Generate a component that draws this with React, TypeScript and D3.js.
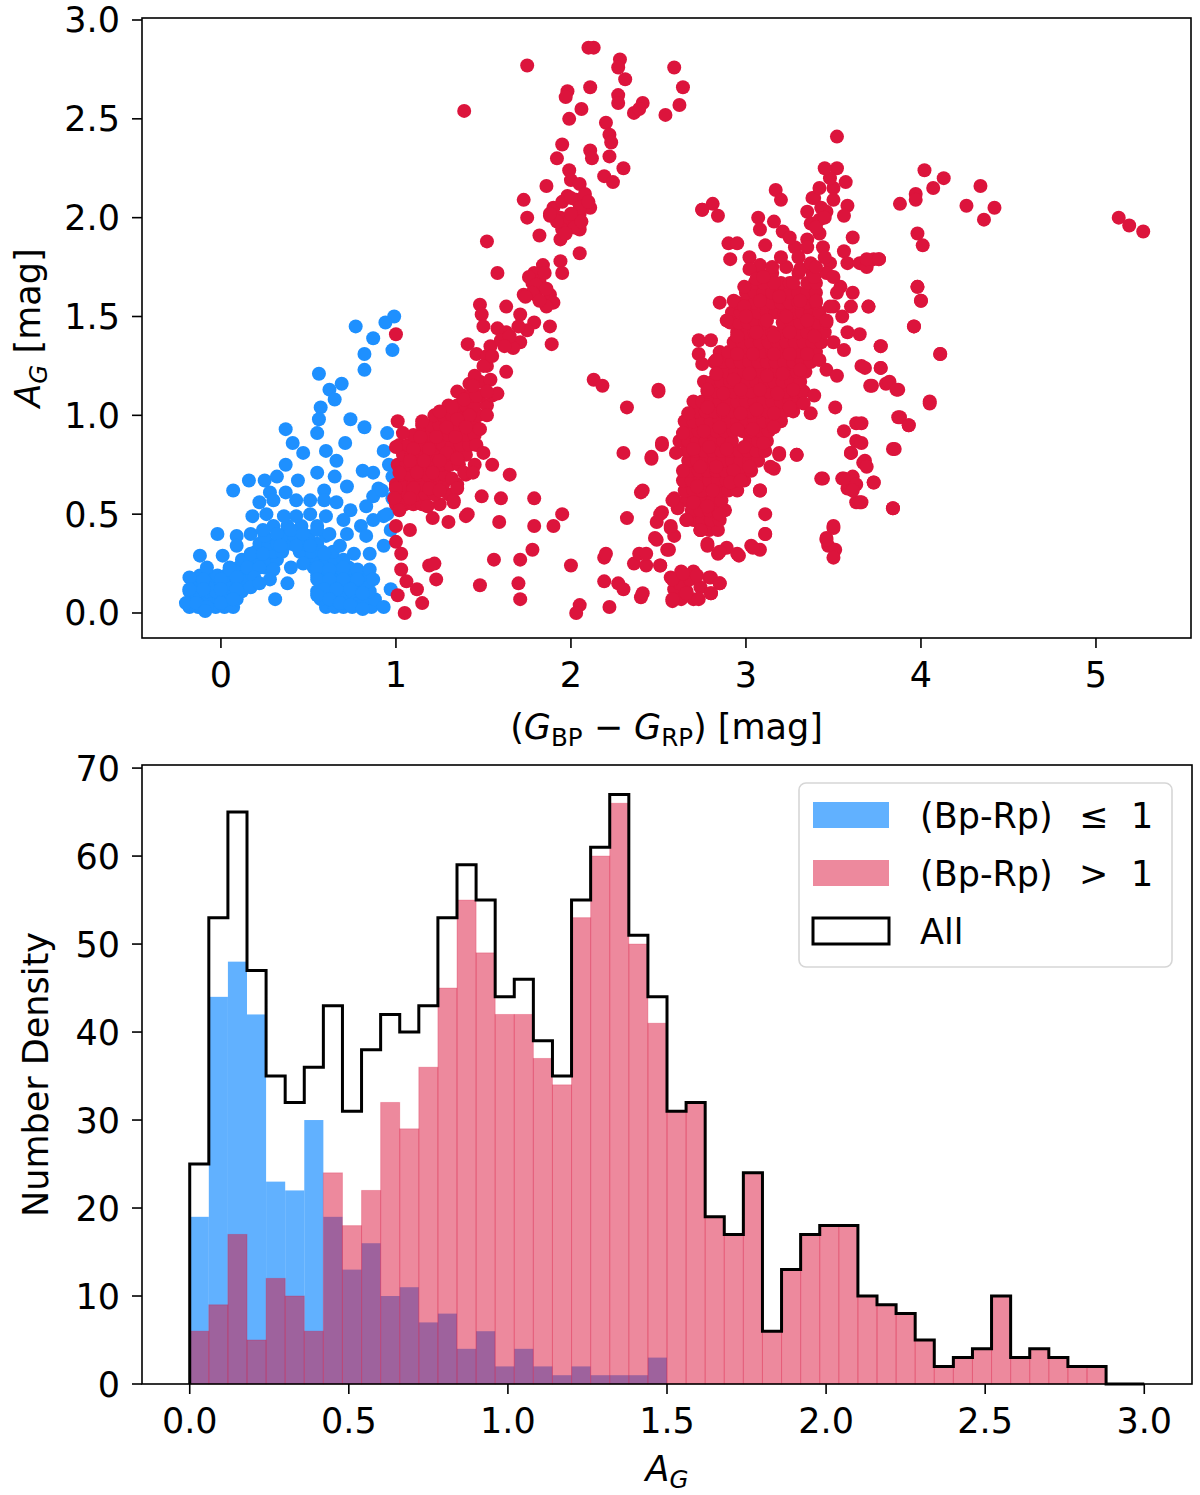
import React, { useEffect } from "react";
import * as d3 from "d3";

const FONT = "DejaVu Sans, sans-serif";
const FS = 35;
const BLUE = "#1E90FF";
const RED = "#DC143C";

// ---- top panel: (Bp-Rp) vs A_G ----
const blueStars: [number, number][] = [
  [0.99,1.50],[0.94,1.47],[0.77,1.45],[0.87,1.39],[0.98,1.33],[0.82,1.31],[0.82,1.23],[0.56,1.21],
  [0.69,1.16],[0.62,1.13],[0.65,1.08],[0.57,1.04],[0.56,0.98],[0.74,0.98],[0.82,0.94],[0.37,0.93],
  [0.55,0.91],[0.41,0.86],[0.71,0.86],[0.95,0.91],[0.93,0.82],[0.47,0.81],[0.60,0.82],[0.66,0.77],
  [0.37,0.75],[0.55,0.71],[0.81,0.72],[0.87,0.71],[0.98,0.69],[0.16,0.67],[0.25,0.67],[0.32,0.69],
  [0.44,0.67],[0.65,0.69],[0.07,0.62],[0.28,0.61],[0.37,0.61],[0.59,0.62],[0.72,0.64],[0.90,0.63],
  [0.22,0.56],[0.30,0.57],[0.43,0.57],[0.51,0.57],[0.59,0.57],[0.66,0.56],[0.74,0.52],[0.83,0.54],
  [0.87,0.59],[0.18,0.49],[0.26,0.50],[0.36,0.49],[0.43,0.49],[0.51,0.50],[0.60,0.49],[0.70,0.47],
  [0.80,0.44],[0.87,0.47],[0.93,0.49],[0.97,0.42],[-0.02,0.40],[0.09,0.39],[0.17,0.40],[0.24,0.42],
  [0.32,0.40],[0.40,0.42],[0.47,0.40],[0.55,0.42],[0.62,0.40],[0.72,0.40],[0.83,0.39],[0.93,0.34],
  [0.09,0.34],[0.01,0.29],[-0.12,0.29],[0.17,0.30],[0.24,0.30],[0.34,0.34],[0.43,0.34],[0.51,0.34],
  [0.59,0.30],[0.68,0.34],[0.76,0.30],[0.85,0.30],[-0.08,0.23],[0.05,0.22],[0.15,0.23],[0.22,0.23],
  [0.30,0.22],[0.40,0.23],[0.47,0.25],[0.55,0.23],[0.62,0.22],[0.70,0.23],[0.78,0.22],[0.85,0.22],
  [-0.18,0.18],[-0.10,0.17],[0.00,0.17],[0.09,0.18],[0.19,0.18],[0.28,0.17],[0.38,0.15],[0.55,0.17],
  [0.62,0.17],[0.70,0.17],[0.78,0.17],[0.87,0.17],[-0.18,0.12],[-0.10,0.12],[0.00,0.12],[0.09,0.12],
  [0.17,0.13],[0.22,0.15],[0.59,0.12],[0.66,0.12],[0.74,0.12],[0.81,0.10],[0.97,0.12],[-0.20,0.05],
  [-0.14,0.05],[-0.08,0.03],[0.00,0.05],[0.07,0.07],[0.31,0.07],[0.55,0.09],[0.62,0.07],[0.68,0.05],
  [0.74,0.04],[0.81,0.02],[0.93,0.03],[-0.09,0.01],[0.95,0.50],[0.98,0.58],[0.92,0.62],[0.96,0.75],
];

// dense parts of the blue group, one row per A_G level
const blueRows: [number, number[]][] = [
  [0.03, [-0.18, -0.13, -0.08, -0.03, 0.02, 0.07, 0.60, 0.65, 0.70, 0.75, 0.80, 0.86]],
  [0.07, [-0.16, -0.11, -0.06, -0.01, 0.04, 0.09, 0.57, 0.62, 0.67, 0.72, 0.77, 0.82, 0.88]],
  [0.11, [-0.18, -0.13, -0.08, -0.03, 0.02, 0.07, 0.12, 0.55, 0.60, 0.65, 0.70, 0.75, 0.80, 0.85]],
  [0.15, [-0.15, -0.10, -0.05, 0.0, 0.05, 0.10, 0.15, 0.57, 0.62, 0.67, 0.72, 0.77, 0.82]],
  [0.19, [-0.12, -0.07, -0.02, 0.03, 0.08, 0.13, 0.18, 0.55, 0.60, 0.65, 0.70, 0.75, 0.80]],
  [0.23, [0.05, 0.10, 0.15, 0.20, 0.25, 0.53, 0.58, 0.63, 0.68, 0.73]],
  [0.27, [0.12, 0.17, 0.22, 0.27, 0.32, 0.50, 0.55, 0.60, 0.65, 0.70]],
  [0.31, [0.20, 0.25, 0.30, 0.35, 0.45, 0.52, 0.58, 0.64]],
  [0.35, [0.22, 0.27, 0.32, 0.40, 0.47, 0.55]],
  [0.39, [0.25, 0.35, 0.42, 0.50, 0.60]],
  [0.44, [0.30, 0.38, 0.46, 0.55]],
];

const redStars: [number, number][] = [
  [2.10,2.86],[2.13,2.86],[1.75,2.77],[2.28,2.80],[2.27,2.76],[2.31,2.70],[2.59,2.76],[2.64,2.66],
  [1.98,2.64],[1.97,2.61],[2.11,2.66],[2.27,2.62],[2.27,2.58],[2.41,2.58],[2.36,2.53],[2.39,2.55],
  [2.54,2.52],[2.62,2.57],[1.39,2.54],[2.06,2.55],[1.99,2.50],[2.20,2.48],[2.22,2.42],[2.23,2.38],
  [1.95,2.37],[1.92,2.30],[2.11,2.34],[2.12,2.30],[2.22,2.31],[2.19,2.21],[2.24,2.18],[2.30,2.25],
  [1.99,2.24],[2.00,2.19],[2.05,2.17],[1.86,2.16],[1.98,2.11],[2.03,2.09],[2.11,2.05],[2.05,2.02],
  [1.88,2.01],[1.94,2.00],[1.99,1.98],[2.05,1.94],[1.73,2.09],[1.75,2.00],[1.82,1.91],[1.94,1.89],
  [1.95,1.94],[2.05,1.82],[1.52,1.88],[1.94,1.78],[1.95,1.72],[1.58,1.72],[1.84,1.76],[1.79,1.72],
  [1.82,1.68],[1.78,1.67],[1.73,1.61],[1.80,1.61],[1.88,1.61],[1.90,1.57],[1.86,1.55],[1.48,1.56],
  [1.63,1.55],[1.71,1.51],[1.79,1.47],[1.75,1.43],[1.88,1.45],[1.89,1.36],[1.49,1.51],[1.50,1.45],
  [1.58,1.44],[1.63,1.42],[1.41,1.36],[1.54,1.35],[1.71,1.37],[1.67,1.34],[1.46,1.31],[1.52,1.30],
  [1.52,1.25],[1.63,1.22],[1.35,1.12],[1.42,1.16],[1.48,1.17],[1.54,1.18],[1.58,1.11],[1.32,1.04],
  [1.39,1.08],[1.46,1.10],[1.25,1.02],[1.52,1.00],[1.42,1.00],[1.35,0.98],[1.01,0.97],[1.15,0.97],
  [1.29,0.94],[1.40,0.94],[1.48,0.93],[1.04,0.91],[1.14,0.89],[1.23,0.89],[1.34,0.89],[1.46,0.85],
  [1.00,0.84],[1.10,0.83],[1.19,0.83],[1.29,0.81],[1.50,0.81],[1.08,0.77],[1.16,0.77],[1.25,0.77],
  [1.35,0.78],[1.55,0.75],[1.65,0.70],[1.02,0.71],[1.12,0.71],[1.21,0.71],[1.32,0.68],[1.39,0.71],
  [1.44,0.71],[1.00,0.63],[1.10,0.63],[1.19,0.63],[1.35,0.63],[0.99,0.58],[1.08,0.58],[1.25,0.62],
  [1.33,0.56],[1.49,0.59],[1.60,0.58],[1.79,0.58],[1.02,0.52],[1.18,0.54],[1.21,0.48],[1.30,0.46],
  [1.40,0.49],[1.95,0.50],[1.79,0.44],[1.90,0.44],[1.59,0.46],[1.00,0.44],[1.08,0.42],[1.00,0.36],
  [1.03,0.30],[1.19,0.24],[1.22,0.25],[1.56,0.27],[1.78,0.32],[1.71,0.27],[2.00,0.24],[2.19,0.28],
  [1.03,0.22],[1.06,0.16],[1.12,0.12],[1.23,0.17],[1.48,0.14],[1.70,0.15],[1.71,0.07],[1.01,0.09],
  [1.15,0.05],[1.05,0.00],[2.05,0.04],[2.03,0.00],[2.22,0.03],[2.19,0.16],[2.27,0.15],[2.30,0.12],
  [2.40,0.08],[2.32,0.48],[2.40,0.61],[2.13,1.18],[2.18,1.15],[2.32,1.04],[2.50,1.12],[2.30,0.81],
  [2.46,0.78],[2.52,0.85],[2.75,2.04],[1.00,1.41],[1.41,0.50],[1.33,0.57],
  [2.20,0.30],[2.36,0.25],[2.39,0.30],[2.43,0.24],[2.51,0.24],[2.49,0.37],[2.56,0.32],[2.59,0.58],
  [2.61,0.53],[2.52,0.51],[2.49,0.46],[2.57,0.43],[2.59,0.39],[2.66,0.47],[2.74,0.42],[2.78,0.35],
  [2.84,0.30],[2.89,0.33],[2.96,0.29],[3.03,0.34],[3.08,0.32],[3.11,0.40],[3.11,0.50],[3.08,0.62],
  [3.29,0.80],[3.19,0.80],[3.16,0.73],[3.44,0.68],[3.55,0.68],[3.60,0.81],[3.61,0.69],[3.58,0.63],
  [3.63,0.56],[3.50,0.43],[3.46,0.38],[3.47,0.34],[3.51,0.32],[3.50,0.28],
  [2.57,0.18],[2.63,0.21],[2.70,0.21],[2.79,0.18],[2.85,0.15],[2.59,0.12],[2.66,0.11],[2.74,0.13],
  [2.80,0.10],[2.58,0.06],[2.63,0.07],[2.70,0.07],[2.62,0.15],[2.68,0.17],
  [3.52,2.41],[3.52,2.25],[3.57,2.18],[3.50,2.15],[3.17,2.14],[3.20,2.09],[2.81,2.07],[2.75,2.04],
  [2.84,2.01],[3.39,2.10],[3.35,2.03],[3.43,2.05],[3.50,2.09],[3.58,2.06],[3.37,1.97],[3.42,1.99],
  [3.46,2.03],[3.56,2.01],[3.07,2.00],[3.16,1.98],[3.21,1.93],[3.08,1.94],[2.90,1.87],[2.95,1.87],
  [3.11,1.86],[2.91,1.79],[3.61,1.90],[3.28,1.85],[3.35,1.89],[3.42,1.92],[3.44,1.85],[3.56,1.83],
  [3.58,1.77],[3.65,1.77],[3.73,1.79],[3.76,1.79],[3.69,1.75],[3.02,1.80],[3.08,1.76],[3.02,1.74],
  [3.23,1.75],[3.31,1.74],[3.37,1.77],[3.48,1.77],[2.99,1.65],[3.06,1.69],[3.16,1.67],[3.27,1.67],
  [3.39,1.70],[3.46,1.72],[3.54,1.65],[3.61,1.62],[2.85,1.57],[2.93,1.58],[2.99,1.55],[3.08,1.58],
  [3.19,1.60],[3.31,1.58],[3.40,1.58],[3.50,1.55],[3.70,1.55],[2.89,1.48],[3.00,1.50],[3.12,1.48],
  [3.23,1.50],[3.35,1.48],[3.46,1.48],[3.58,1.42],[3.65,1.41],[3.96,1.45],[3.98,1.65],[4.00,1.58],
  [2.73,1.38],[2.80,1.38],[2.95,1.40],[3.06,1.42],[3.16,1.40],[3.25,1.42],[3.39,1.40],[3.50,1.37],
  [3.56,1.33],[3.77,1.35],[2.73,1.31],[2.83,1.28],[2.95,1.31],[3.04,1.31],[3.16,1.31],[3.25,1.31],
  [3.35,1.31],[3.42,1.28],[2.75,1.26],[3.66,1.25],[3.77,1.24],[4.11,1.31],[2.83,1.21],[2.93,1.18],
  [3.02,1.21],[3.12,1.20],[3.21,1.21],[3.31,1.23],[3.46,1.23],[3.52,1.20],[3.71,1.15],[3.80,1.16],
  [3.87,1.13],[2.50,1.13],[2.78,1.13],[2.87,1.11],[2.97,1.13],[3.08,1.13],[3.18,1.11],[3.27,1.13],
  [3.39,1.10],[3.51,1.04],[4.05,1.07],[2.67,1.01],[2.78,1.04],[2.87,1.03],[2.97,1.01],[3.06,1.03],
  [3.16,1.01],[3.25,1.04],[3.33,1.06],[3.37,1.01],[3.87,0.99],[3.93,0.95],[2.64,0.91],[2.76,0.92],
  [2.85,0.94],[2.95,0.93],[3.04,0.93],[3.16,0.94],[3.56,0.92],[3.63,0.96],[2.60,0.81],[2.70,0.83],
  [2.79,0.84],[2.89,0.83],[2.99,0.84],[3.10,0.86],[3.19,0.81],[3.29,0.80],[3.63,0.87],[3.60,0.81],
  [3.84,0.83],[2.46,0.79],[2.52,0.86],[2.64,0.72],[2.74,0.74],[2.83,0.74],[2.93,0.72],[3.02,0.74],
  [3.14,0.74],[3.67,0.76],[3.43,0.68],[3.56,0.68],[3.63,0.65],[3.73,0.66],[3.61,0.62],[3.65,0.56],
  [3.84,0.53],[2.41,0.62],[2.58,0.57],[2.72,0.64],[2.81,0.62],[2.91,0.66],[2.97,0.67],[2.70,0.56],
  [2.78,0.54],[2.85,0.50],[3.08,0.62],[2.51,0.50],[2.57,0.44],[2.66,0.47],[2.74,0.42],[2.48,0.38],
  [3.11,0.40],[3.50,0.44],[3.46,0.37],[2.78,0.34],[2.85,0.31],[2.95,0.30],[3.04,0.33],[2.43,0.30],
  [2.51,0.24],[2.55,0.32],[2.41,0.10],[2.58,0.17],[2.64,0.20],[2.72,0.19],[2.80,0.18],[2.85,0.15],
  [2.58,0.07],[2.66,0.10],[2.73,0.07],[2.80,0.10],
  [4.02,2.24],[4.13,2.20],[4.07,2.15],[3.97,2.12],[3.97,2.09],[3.88,2.07],[4.34,2.16],[4.26,2.06],
  [4.42,2.05],[4.36,1.99],[5.13,2.00],[5.19,1.96],[5.27,1.93],[3.98,1.92],[4.01,1.86],[3.69,1.79],
  [3.76,1.79],[3.98,1.65],[4.00,1.58],[3.70,1.55],[3.96,1.45],[3.77,1.35],[4.11,1.31],[3.68,1.24],
  [3.77,1.24],[3.72,1.15],[3.82,1.17],[3.86,1.13],[4.05,1.06],[3.88,0.99],[3.93,0.95],[3.66,0.96],
  [3.66,0.86],[3.85,0.83],[3.68,0.77],[3.69,0.74],[3.73,0.66],[3.66,0.56],[3.84,0.53],
  [1.90,2.05],[1.95,2.08],[2.00,2.10],[2.05,2.05],[1.92,1.98],[2.00,2.02],[2.08,2.12],[2.02,1.95],
  [1.97,1.92],[1.88,2.02],[2.10,2.08],[2.06,1.98],[1.76,1.70],[1.80,1.66],[1.85,1.72],[1.78,1.62],
  [1.82,1.58],[1.74,1.60],[1.86,1.64],[1.45,1.20],[1.50,1.25],[1.55,1.30],[1.60,1.38],[1.65,1.40],
  [1.70,1.45],[1.52,1.12],[1.44,1.15],[1.62,1.35],
  [3.25,1.90],[3.30,1.80],[3.35,1.85],[3.40,1.75],[3.45,1.80],[3.20,1.80],[3.15,1.75],[3.10,1.70],
  [3.50,1.70],[3.52,1.62],[3.48,1.55],[3.55,1.50],[3.60,1.55],[3.40,1.95],[3.45,2.00],[3.38,2.10],
  [3.42,2.15],[3.48,2.20],[3.45,2.25],
];

// solid core of the right-hand red group and of the left red band
const redRows: [number, number[]][] = [
  [0.42, [2.74, 2.79, 2.84]],
  [0.47, [2.70, 2.75, 2.80, 2.85]],
  [0.52, [2.69, 2.74, 2.79, 2.84, 2.88]],
  [0.57, [2.66, 2.71, 2.76, 2.81, 2.86]],
  [0.62, [2.65, 2.70, 2.75, 2.85, 2.90, 2.95]],
  [0.67, [2.64, 2.69, 2.74, 2.79, 2.84, 2.89, 2.94, 2.99]],
  [0.72, [2.68, 2.73, 2.78, 2.83, 2.88, 2.93, 2.98, 3.03]],
  [0.77, [2.67, 2.72, 2.77, 2.82, 2.87, 2.92, 2.97, 3.02, 3.07]],
  [0.82, [2.66, 2.71, 2.76, 2.81, 2.86, 2.91, 2.96, 3.01, 3.06, 3.11]],
  [0.87, [2.62, 2.67, 2.72, 2.77, 2.82, 2.87, 2.92, 3.02, 3.07, 3.12]],
  [0.92, [2.68, 2.73, 2.78, 2.83, 2.88, 2.93, 2.98, 3.03, 3.08, 3.13]],
  [0.97, [2.65, 2.70, 2.75, 2.80, 2.85, 2.90, 2.95, 3.00, 3.05, 3.10, 3.15, 3.20]],
  [1.02, [2.72, 2.77, 2.82, 2.87, 2.92, 2.97, 3.02, 3.07, 3.12, 3.17, 3.22, 3.27]],
  [1.07, [2.70, 2.75, 2.80, 2.85, 2.90, 2.95, 3.00, 3.05, 3.10, 3.15, 3.20, 3.25, 3.30]],
  [1.12, [2.78, 2.83, 2.88, 2.93, 2.98, 3.03, 3.13, 3.18, 3.23, 3.28, 3.33]],
  [1.17, [2.76, 2.81, 2.86, 2.91, 2.96, 3.01, 3.06, 3.11, 3.16, 3.21, 3.26, 3.31]],
  [1.22, [2.84, 2.89, 2.94, 2.99, 3.04, 3.09, 3.14, 3.19, 3.24, 3.29, 3.34]],
  [1.27, [2.82, 2.87, 2.92, 2.97, 3.02, 3.07, 3.12, 3.17, 3.22, 3.27, 3.32, 3.37]],
  [1.32, [2.85, 2.90, 2.95, 3.00, 3.05, 3.10, 3.15, 3.20, 3.25, 3.30, 3.35, 3.40]],
  [1.37, [2.93, 2.98, 3.03, 3.08, 3.13, 3.18, 3.23, 3.28, 3.33, 3.38, 3.43]],
  [1.42, [2.95, 3.00, 3.05, 3.10, 3.15, 3.20, 3.25, 3.30, 3.35, 3.40, 3.45]],
  [1.47, [2.91, 2.96, 3.01, 3.06, 3.11, 3.21, 3.26, 3.31, 3.36, 3.41, 3.46]],
  [1.52, [2.92, 2.97, 3.02, 3.07, 3.12, 3.17, 3.22, 3.27, 3.32, 3.37, 3.42]],
  [1.57, [2.95, 3.00, 3.05, 3.10, 3.15, 3.20, 3.25, 3.30, 3.35, 3.40]],
  [1.62, [3.00, 3.05, 3.10, 3.15, 3.20, 3.25, 3.30, 3.35, 3.40]],
  [1.67, [3.05, 3.10, 3.20, 3.25, 3.35, 3.40]],
  [1.72, [3.08, 3.15, 3.30, 3.38]],
  [0.55, [1.00, 1.05, 1.10, 1.15, 1.25]],
  [0.60, [1.02, 1.07, 1.12, 1.17, 1.22, 1.30]],
  [0.65, [1.00, 1.05, 1.10, 1.15, 1.20, 1.27, 1.35]],
  [0.70, [1.03, 1.08, 1.13, 1.18, 1.23, 1.28, 1.40]],
  [0.75, [1.01, 1.06, 1.11, 1.16, 1.21, 1.26, 1.31, 1.36, 1.45]],
  [0.80, [1.04, 1.09, 1.14, 1.19, 1.24, 1.29, 1.34, 1.40]],
  [0.85, [1.02, 1.07, 1.12, 1.17, 1.22, 1.27, 1.32, 1.37, 1.42]],
  [0.90, [1.10, 1.15, 1.20, 1.25, 1.30, 1.35, 1.40, 1.45]],
  [0.95, [1.15, 1.20, 1.25, 1.30, 1.35, 1.40, 1.45]],
  [1.00, [1.22, 1.27, 1.32, 1.37, 1.42, 1.47]],
  [1.05, [1.30, 1.35, 1.40, 1.45, 1.52]],
  [1.10, [1.38, 1.43, 1.48, 1.55]],
];

const colorTicks = [0, 1, 2, 3, 4, 5];
const agTicks = [0, 0.5, 1, 1.5, 2, 2.5, 3];

// ---- bottom panel: histogram of A_G, 50 bins over [0, 3] ----
const histRange: [number, number] = [0, 3];
const blueCounts = [19, 44, 48, 42, 23, 22, 30, 19, 13, 16, 10, 11, 7, 8, 4, 6, 2, 4, 2, 1, 2, 1, 1, 1, 3,
  0, 0, 0, 0, 0, 0, 0, 0, 0, 0, 0, 0, 0, 0, 0, 0, 0, 0, 0, 0, 0, 0, 0, 0, 0];
const redCounts = [6, 9, 17, 5, 12, 10, 6, 24, 18, 22, 32, 29, 36, 45, 55, 49, 42, 42, 37, 34, 53, 60, 66, 50, 41,
  31, 32, 19, 17, 24, 6, 13, 17, 18, 18, 10, 9, 8, 5, 2, 3, 4, 10, 3, 4, 3, 2, 2, 0, 0];
const histXTicks = [0, 0.5, 1, 1.5, 2, 2.5, 3];
const histYTicks = [0, 10, 20, 30, 40, 50, 60, 70];

const legendItems = [
  { label: "(Bp-Rp)", op: "≤", fill: BLUE, opacity: 0.7, outline: false },
  { label: "(Bp-Rp)", op: ">", fill: RED, opacity: 0.5, outline: false },
  { label: "All", op: "", fill: "white", opacity: 1, outline: true },
];

const rowsToPoints = (rows: [number, number[]][]) =>
  rows.flatMap(([y, xs]) => xs.map((x) => [x, y] as [number, number]));

const App: React.FC = () => {
  useEffect(() => {
    document.body.style.margin = "0";
  }, []);

  // top panel frame
  const tL = 142, tR = 1191, tT = 18, tB = 638;
  const x1 = d3.scaleLinear().domain([-0.451, 5.543]).range([tL, tR]);
  const y1 = d3.scaleLinear().domain([-0.1265, 3.0101]).range([tB, tT]);

  // bottom panel frame
  const bL = 142, bR = 1192, bT = 765, bB = 1384;
  const x2 = d3.scaleLinear().domain([-0.15, 3.15]).range([bL, bR]);
  const y2 = d3.scaleLinear().domain([0, 70.35]).range([bB, bT]);

  const nBins = blueCounts.length;
  const edges = d3.range(nBins + 1).map((i) => histRange[0] + ((histRange[1] - histRange[0]) * i) / nBins);
  const allCounts = blueCounts.map((b, i) => b + redCounts[i]);

  const stepPts: [number, number][] = [[edges[0], 0]];
  allCounts.forEach((c, i) => {
    stepPts.push([edges[i], c], [edges[i + 1], c]);
  });
  stepPts.push([edges[nBins], 0]);
  const stepLine = d3.line<[number, number]>().x((d) => x2(d[0])).y((d) => y2(d[1]));

  const bluePts = [...rowsToPoints(blueRows), ...blueStars];
  const redPts = [...rowsToPoints(redRows), ...redStars];

  const f1 = d3.format(".1f");
  const tick = 10;
  const sub = FS * 0.7;
  const dy = FS * 0.2;
  const dotR = 7;

  const bars = (counts: number[], color: string, opacity: number, edge: boolean) =>
    counts.map((c, i) =>
      c > 0 ? (
        <rect
          key={i}
          x={x2(edges[i])}
          y={y2(c)}
          width={x2(edges[i + 1]) - x2(edges[i])}
          height={y2(0) - y2(c)}
          fill={color}
          fillOpacity={opacity}
          stroke={edge ? color : "none"}
          strokeOpacity={edge ? 0.25 : 0}
          strokeWidth={1}
        />
      ) : null
    );

  return (
    <svg width={1200} height={1495} style={{ display: "block", background: "white" }} fontFamily={FONT} fontSize={FS}>
      {/* ---------- top scatter ---------- */}
      <g>
        {bluePts.map((d, i) => (
          <circle key={"b" + i} cx={x1(d[0])} cy={y1(d[1])} r={dotR} fill={BLUE} />
        ))}
        {redPts.map((d, i) => (
          <circle key={"r" + i} cx={x1(d[0])} cy={y1(d[1])} r={dotR} fill={RED} />
        ))}
        <rect x={tL} y={tT} width={tR - tL} height={tB - tT} fill="none" stroke="black" strokeWidth={1.6} />
        {colorTicks.map((t) => (
          <g key={t} transform={`translate(${x1(t)},${tB})`}>
            <line y2={tick} stroke="black" strokeWidth={1.6} />
            <text y={49} textAnchor="middle">{t}</text>
          </g>
        ))}
        {agTicks.map((t) => (
          <g key={t} transform={`translate(${tL},${y1(t)})`}>
            <line x2={-tick} stroke="black" strokeWidth={1.6} />
            <text x={-22} y={12.5} textAnchor="end">{f1(t)}</text>
          </g>
        ))}
        <text x={(tL + tR) / 2} y={739} textAnchor="middle" xmlSpace="preserve">
          (<tspan fontStyle="italic">G</tspan>
          <tspan fontSize={sub} dy={dy}>BP</tspan>
          <tspan dy={-dy}> − </tspan>
          <tspan fontStyle="italic">G</tspan>
          <tspan fontSize={sub} dy={dy}>RP</tspan>
          <tspan dy={-dy}>) [mag]</tspan>
        </text>
        <text transform={`translate(40,${(tT + tB) / 2}) rotate(-90)`} textAnchor="middle" xmlSpace="preserve">
          <tspan fontStyle="italic">A</tspan>
          <tspan fontStyle="italic" fontSize={sub} dy={dy}>G</tspan>
          <tspan dy={-dy}> [mag]</tspan>
        </text>
      </g>

      {/* ---------- bottom histogram ---------- */}
      <g>
        <g>{bars(blueCounts, BLUE, 0.7, false)}</g>
        <g>{bars(redCounts, RED, 0.5, true)}</g>
        <path d={stepLine(stepPts) || ""} fill="none" stroke="black" strokeWidth={3} strokeLinejoin="miter" />
        <rect x={bL} y={bT} width={bR - bL} height={bB - bT} fill="none" stroke="black" strokeWidth={1.6} />
        {histXTicks.map((t) => (
          <g key={t} transform={`translate(${x2(t)},${bB})`}>
            <line y2={tick} stroke="black" strokeWidth={1.6} />
            <text y={49} textAnchor="middle">{f1(t)}</text>
          </g>
        ))}
        {histYTicks.map((t) => (
          <g key={t} transform={`translate(${bL},${y2(t)})`}>
            <line x2={-tick} stroke="black" strokeWidth={1.6} />
            <text x={-22} y={12.5} textAnchor="end">{t}</text>
          </g>
        ))}
        <text x={(bL + bR) / 2} y={1481} textAnchor="middle">
          <tspan fontStyle="italic">A</tspan>
          <tspan fontStyle="italic" fontSize={sub} dy={dy}>G</tspan>
        </text>
        <text transform={`translate(48,${(bT + bB) / 2}) rotate(-90)`} textAnchor="middle">
          Number Density
        </text>

        {/* legend */}
        <g transform="translate(799,783)">
          <rect width={373} height={184} rx={7} fill="white" fillOpacity={0.8} stroke="#d6d6d6" strokeWidth={1.6} />
          {legendItems.map((it, i) => (
            <g key={i} transform={`translate(0,${19 + i * 58})`}>
              <rect
                x={14}
                y={0}
                width={76}
                height={26}
                fill={it.fill}
                fillOpacity={it.opacity}
                stroke={it.outline ? "black" : "none"}
                strokeWidth={it.outline ? 3 : 0}
              />
              <text x={121} y={26}>{it.label}</text>
              {it.op && <text x={280} y={26}>{it.op}</text>}
              {it.op && <text x={332} y={26}>1</text>}
            </g>
          ))}
        </g>
      </g>
    </svg>
  );
};

export default App;
